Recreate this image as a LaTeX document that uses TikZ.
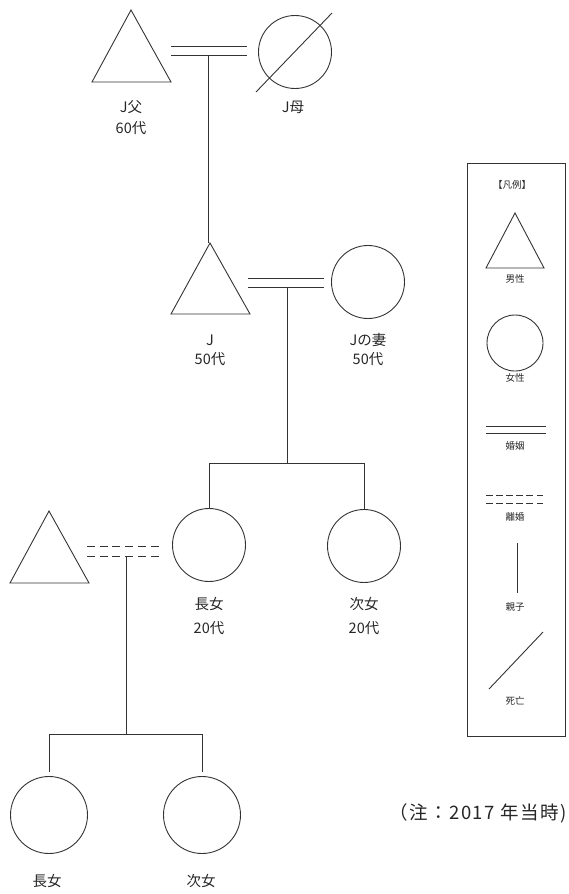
\documentclass[tikz,border=0pt]{standalone}
\usepackage{fontspec}
\setmainfont{Noto Sans CJK JP}
\newfontfamily\notefont[LetterSpace=8]{Noto Sans CJK JP}
\begin{document}
\begin{tikzpicture}[x=1pt,y=-1pt,
  ln/.style={line width=0.9pt, draw=black!80},
  dashln/.style={ln, dash pattern=on 8pt off 4.7pt},
  legdash/.style={ln, dash pattern=on 6.5pt off 3.6pt},
  female/.style={circle, ln, inner sep=0pt, minimum size=#1},
  female/.default=73pt,
  lbl/.style={text=black!85, font=\fontsize{14.5}{16}\selectfont, inner sep=0pt},
  leg/.style={text=black!85, font=\fontsize{9.5}{11}\selectfont, inner sep=0pt},
  note/.style={text=black!85, font=\notefont\fontsize{18.5}{20}\selectfont, inner sep=0pt}]
\useasboundingbox (0,0) rectangle (568,894);

% ---- generation 1: J's parents ----
\draw[ln] (131,10) coordinate (jfT) -- (171,82) coordinate (jfR) -- (92,82) -- cycle;
\node[female] (jm) at (295,52) {};
\draw[ln] (256,92) coordinate (dA) -- (332,13) coordinate (dB);
\coordinate (m1a) at (247,46);
\coordinate (m1b) at (247,55);
\draw[ln] (171,46) -- (m1a);
\draw[ln] (171,55) -- (m1b);
\coordinate (c1) at (208,55);
\node[lbl] (ljf) at (131,107) {J父};
\node[lbl] (ljfa) at (131,128) {60代};
\node[lbl] (ljm) at (293,107) {J母};

% ---- generation 2: J and his wife ----
\draw[ln] (210,243) coordinate (jT) -- (250,314) coordinate (jR) -- (171,314) -- cycle;
\node[female] (jw) at (368,282) {};
\draw[ln] (c1) -- (c1 |- jT);
\draw[ln] (248,278) -- (324,278);
\draw[ln] (248,287) -- (324,287);
\coordinate (c2) at (287,287);
\node[lbl] (lj) at (210,340) {J};
\node[lbl] (lja) at (210,359) {50代};
\node[lbl] (ljw) at (368,340) {Jの妻};
\node[lbl] (ljwa) at (368,359) {50代};

% ---- generation 3: daughters ----
\node[female] (d1) at (209,545) {};
\node[female] (d2) at (364,546) {};
\coordinate (s2) at (287,463);
\draw[ln] (c2) -- (s2);
\draw[ln] (d1.north |- s2) -- (d2.north |- s2);
\draw[ln] (d1.north |- s2) -- (d1.north);
\draw[ln] (d2.north |- s2) -- (d2.north);
\draw[ln] (49,511) coordinate (hT) -- (89,583) coordinate (hR) -- (10,583) -- cycle;
\draw[dashln] (87,546) -- (163,546);
\draw[dashln] (87,556) -- (163,556);
\coordinate (c3) at (126,556);
\node[lbl] (ld1) at (209,604) {長女};
\node[lbl] (ld1a) at (209,628) {20代};
\node[lbl] (ld2) at (364,604) {次女};
\node[lbl] (ld2a) at (364,628) {20代};

% ---- generation 4: granddaughters ----
\node[female=77pt] (g1) at (49,815) {};
\node[female=77pt] (g2) at (202,815) {};
\coordinate (s3) at (126,734);
\draw[ln] (c3) -- (s3);
\draw[ln] (g1.north |- s3) -- (g2.north |- s3);
\draw[ln] (g1.north |- s3) -- (49,772);
\draw[ln] (g2.north |- s3) -- (202,772);
\node[lbl] (lg1) at (47,881) {長女};
\node[lbl] (lg2) at (201,881) {次女};

% ---- legend ----
\draw[ln] (467,163) rectangle (565,736);
\node[leg] (lh) at (512,185) {【凡例】};
\draw[ln] (515,213) -- (544,268) -- (486,268) -- cycle;
\node[leg] (lm) at (515,279) {男性};
\node[female=56pt] (lc) at (515,343) {};
\node[leg] (lf) at (515,378) {女性};
\draw[ln] (486,426) -- (546,426);
\draw[ln] (486,433) -- (546,433);
\node[leg] (lmar) at (515,446) {婚姻};
\draw[legdash] (486,495) -- (546,495);
\draw[legdash] (486,503) -- (546,503);
\node[leg] (ldiv) at (515,517) {離婚};
\draw[ln] (517,543) -- (517,593);
\node[leg] (lpc) at (515,607) {親子};
\draw[ln] (489,689) -- (543,632);
\node[leg] (ldead) at (515,701) {死亡};

% ---- note ----
\node[note, anchor=east] (nt) at (567,813) {（注：2017 年当時)};
\end{tikzpicture}
\end{document}
